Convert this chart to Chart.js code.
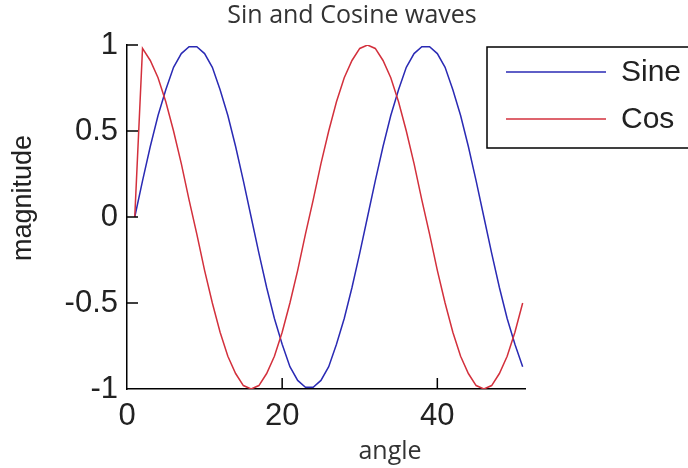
<!DOCTYPE html>
<html>
<head>
<meta charset="utf-8">
<script src="https://cdn.jsdelivr.net/npm/chart.js@4.4.1/dist/chart.umd.min.js"></script>
<style>
  html, body { margin: 0; padding: 0; background: #fff; }
</style>
</head>
<body>
<canvas id="chart" width="688" height="468"></canvas>
<script>
// data
const angle = [1, 2, 3, 4, 5, 6, 7, 8, 9, 10, 11, 12, 13, 14, 15, 16, 17, 18, 19, 20,
  21, 22, 23, 24, 25, 26, 27, 28, 29, 30, 31, 32, 33, 34, 35, 36, 37, 38, 39, 40,
  41, 42, 43, 44, 45, 46, 47, 48, 49, 50, 51];
const sineValues = [0, 0.21, 0.41, 0.59, 0.74, 0.87, 0.95, 0.99, 0.99, 0.95, 0.87, 0.74, 0.59, 0.41, 0.21,
  0, -0.21, -0.41, -0.59, -0.74, -0.87, -0.95, -0.99, -0.99, -0.95, -0.87, -0.74, -0.59, -0.41, -0.21,
  0, 0.21, 0.41, 0.59, 0.74, 0.87, 0.95, 0.99, 0.99, 0.95, 0.87, 0.74, 0.59, 0.41, 0.21,
  0, -0.21, -0.41, -0.59, -0.74, -0.87];
const cosValues = [0, 0.98, 0.91, 0.81, 0.67, 0.5, 0.31, 0.1, -0.1, -0.31, -0.5, -0.67, -0.81, -0.91, -0.98,
  -1, -0.98, -0.91, -0.81, -0.67, -0.5, -0.31, -0.1, 0.1, 0.31, 0.5, 0.67, 0.81, 0.91, 0.98,
  1, 0.98, 0.91, 0.81, 0.67, 0.5, 0.31, 0.1, -0.1, -0.31, -0.5, -0.67, -0.81, -0.91, -0.98,
  -1, -0.98, -0.91, -0.81, -0.67, -0.5];
const seriesNames = ['Sine', 'Cos'];
const seriesColors = ['#2a2ab4', '#d3303c'];

const chartTitle = 'Sin and Cosine waves';
const xTitle = 'angle';
const yTitle = 'magnitude';

const tickFont = 'Arial, "Liberation Sans", sans-serif';
const labelFont = '"Open Sans", "Noto Sans", sans-serif';

function toPoints(ys) {
  return angle.map((x, i) => ({ x: x, y: ys[i] }));
}

// titles, inward tick marks and the legend box (which sticks out past the axes)
const extrasPlugin = {
  id: 'extras',
  afterDraw(chart) {
    const ctx = chart.ctx;
    const area = chart.chartArea;
    const xs = chart.scales.x;
    const ys = chart.scales.y;
    ctx.save();

    ctx.strokeStyle = '#000';
    ctx.lineWidth = 1.5;
    ctx.beginPath();
    xs.ticks.forEach(t => {
      if (t.value <= xs.min) return;
      const px = xs.getPixelForValue(t.value);
      ctx.moveTo(px, area.bottom);
      ctx.lineTo(px, area.bottom - 11);
    });
    ys.ticks.forEach(t => {
      if (t.value <= ys.min) return;
      const py = ys.getPixelForValue(t.value);
      ctx.moveTo(area.left, py);
      ctx.lineTo(area.left + 11, py);
    });
    ctx.stroke();

    // title
    ctx.fillStyle = '#333';
    ctx.textAlign = 'center';
    ctx.textBaseline = 'middle';
    ctx.font = '25px ' + labelFont;
    ctx.fillText(chartTitle, 352, 16);
    ctx.fillText(xTitle, 390, 452);

    ctx.save();
    ctx.translate(24, 198);
    ctx.rotate(-Math.PI / 2);
    ctx.fillStyle = '#222';
    ctx.font = '27px ' + tickFont;
    ctx.fillText(yTitle, 0, 0);
    ctx.restore();

    // legend
    ctx.fillStyle = '#fff';
    ctx.fillRect(487, 47, 260, 101);
    ctx.strokeStyle = '#000';
    ctx.lineWidth = 1.5;
    ctx.strokeRect(487, 47, 260, 101);
    const rows = [72, 119];
    chart.data.datasets.forEach((ds, i) => {
      ctx.strokeStyle = ds.borderColor;
      ctx.lineWidth = 1.5;
      ctx.beginPath();
      ctx.moveTo(506, rows[i]);
      ctx.lineTo(606, rows[i]);
      ctx.stroke();
      ctx.fillStyle = '#222';
      ctx.textAlign = 'left';
      ctx.font = '30px ' + tickFont;
      ctx.fillText(ds.label, 621, rows[i] + 1);
    });
    ctx.restore();
  }
};

const ctx = document.getElementById('chart').getContext('2d');
const chart = new Chart(ctx, {
  type: 'line',
  data: {
    datasets: [
      {
        label: seriesNames[0],
        data: toPoints(sineValues),
        borderColor: seriesColors[0],
        borderWidth: 1.5,
        pointRadius: 0,
        tension: 0,
        order: 1
      },
      {
        label: seriesNames[1],
        data: toPoints(cosValues),
        borderColor: seriesColors[1],
        borderWidth: 1.5,
        pointRadius: 0,
        tension: 0,
        order: 0
      }
    ]
  },
  options: {
    responsive: false,
    animation: false,
    events: [],
    layout: { padding: { top: 45, right: 163, bottom: 0, left: 0 } },
    plugins: {
      legend: { display: false },
      title: { display: false },
      tooltip: { enabled: false }
    },
    scales: {
      x: {
        type: 'linear',
        min: 0,
        max: 51.3,
        grid: { display: false, drawTicks: false },
        border: { display: true, color: '#000', width: 1.5 },
        ticks: {
          stepSize: 20,
          includeBounds: false,
          padding: 9,
          color: '#222',
          font: { family: tickFont, size: 31 }
        },
        afterFit(axis) { axis.height = 79; }
      },
      y: {
        type: 'linear',
        min: -1,
        max: 1,
        grid: { display: false, drawTicks: false },
        border: { display: true, color: '#000', width: 1.5 },
        ticks: {
          stepSize: 0.5,
          padding: 9,
          color: '#222',
          font: { family: tickFont, size: 31 },
          callback: value => String(value)
        },
        afterFit(axis) { axis.width = 127; }
      }
    }
  },
  plugins: [extrasPlugin]
});
</script>
</body>
</html>
